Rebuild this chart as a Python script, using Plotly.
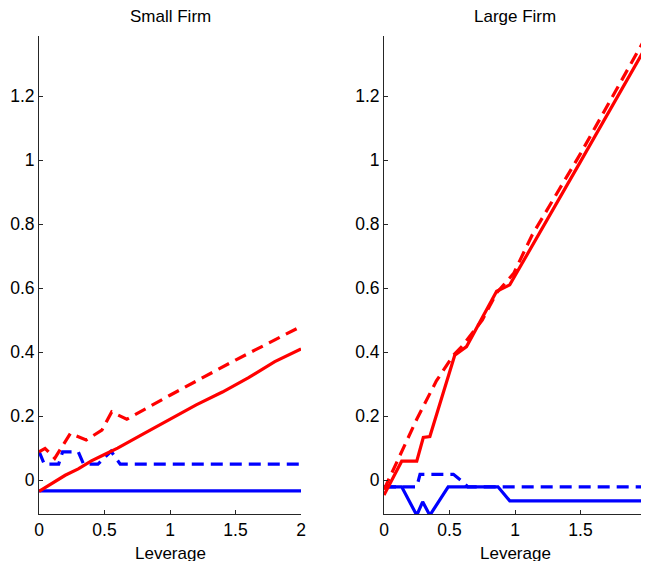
import plotly.graph_objects as go

# page is 649x561, the browser's default 8px body margin offsets the figure
OFF = 8
W, H = 649 - OFF, 561 - OFF

# ---- data: Small Firm ----
small_red_solid_x = [0, 0.1, 0.2, 0.3, 0.4, 0.5, 0.6, 0.8, 1.0, 1.2, 1.4, 1.6, 1.8, 2.0]
small_red_solid_y = [-0.035, -0.01, 0.015, 0.035, 0.06, 0.08, 0.1, 0.145, 0.19, 0.235, 0.275, 0.32, 0.37, 0.41]
small_red_dash_x = [0, 0.046, 0.12, 0.24, 0.36, 0.48, 0.555, 0.67, 1.0, 1.5, 2.0]
small_red_dash_y = [0.088, 0.099, 0.068, 0.146, 0.125, 0.156, 0.213, 0.19, 0.265, 0.375, 0.48]
small_blue_solid_x = [0, 2.0]
small_blue_solid_y = [-0.034, -0.034]
small_blue_dash_x = [0, 0.04, 0.15, 0.18, 0.3, 0.34, 0.45, 0.55, 0.62, 2.0]
small_blue_dash_y = [0.09, 0.05, 0.05, 0.088, 0.088, 0.05, 0.05, 0.09, 0.05, 0.05]

# ---- data: Large Firm ----
large_red_solid_x = [0, 0.135, 0.25, 0.3, 0.35, 0.48, 0.54, 0.63, 0.86, 0.96, 1.19, 1.5, 2.0]
large_red_solid_y = [-0.047, 0.059, 0.059, 0.133, 0.136, 0.31, 0.39, 0.417, 0.59, 0.61, 0.776, 0.995, 1.354]
large_red_dash_x = [0, 0.1, 0.25, 0.4, 0.53, 0.6, 0.75, 0.86, 0.99, 1.13, 1.5, 2.0]
large_red_dash_y = [-0.03, 0.06, 0.19, 0.31, 0.39, 0.42, 0.5, 0.585, 0.646, 0.765, 1.02, 1.385]
large_blue_solid_x = [0, 0.135, 0.25, 0.295, 0.35, 0.49, 0.87, 0.96, 2.0]
large_blue_solid_y = [-0.021, -0.021, -0.11, -0.068, -0.11, -0.021, -0.021, -0.065, -0.065]
large_blue_dash_x = [0, 0.25, 0.275, 0.53, 0.6, 0.64, 2.0]
large_blue_dash_y = [-0.021, -0.021, 0.018, 0.018, -0.005, -0.021, -0.021]

x_ticks = [0, 0.5, 1, 1.5, 2]
x_tick_text = ["0", "0.5", "1", "1.5", "2"]
y_ticks = [0, 0.2, 0.4, 0.6, 0.8, 1.0, 1.2]
y_tick_text = ["0", "0.2", "0.4", "0.6", "0.8", "1", "1.2"]
titles = ["Small Firm", "Large Firm"]
xlabel = "Leverage"

RED = "#FF0000"
BLUE = "#0000FF"
LW = 3.2
DASH = "12px,7px"

fig = go.Figure()

def add(x, y, color, dash, xa, ya):
    fig.add_trace(go.Scatter(x=x, y=y, mode="lines",
                             line=dict(color=color, width=LW, dash=dash),
                             xaxis=xa, yaxis=ya, showlegend=False,
                             hoverinfo="skip", cliponaxis=True))

add(small_blue_solid_x, small_blue_solid_y, BLUE, "solid", "x", "y")
add(small_blue_dash_x, small_blue_dash_y, BLUE, DASH, "x", "y")
add(small_red_solid_x, small_red_solid_y, RED, "solid", "x", "y")
add(small_red_dash_x, small_red_dash_y, RED, DASH, "x", "y")

add(large_blue_solid_x, large_blue_solid_y, BLUE, "solid", "x2", "y2")
add(large_blue_dash_x, large_blue_dash_y, BLUE, DASH, "x2", "y2")
add(large_red_solid_x, large_red_solid_y, RED, "solid", "x2", "y2")
add(large_red_dash_x, large_red_dash_y, RED, DASH, "x2", "y2")

def px(p):
    return (p - OFF) / W

def py(p):
    return 1 - (p - OFF) / H

yd = [py(514), py(36)]
xd1 = [px(39), px(301)]
xd2 = [px(384), px(646)]

font = dict(family="Liberation Sans, Arial, sans-serif", size=17.5, color="#000000")
tfont = dict(family="Liberation Sans, Arial, sans-serif", size=17, color="#000000")

common_x = dict(range=[0, 2], tickvals=x_ticks, ticktext=x_tick_text,
                showline=True, linecolor="#262626", linewidth=1,
                ticks="inside", ticklen=4, tickcolor="#262626",
                showgrid=False, zeroline=False, mirror=False,
                tickfont=font, fixedrange=True, automargin=False,
                ticklabeloverflow="allow")
common_y = dict(range=[-0.106, 1.3875], tickvals=y_ticks, ticktext=y_tick_text,
                showline=True, linecolor="#262626", linewidth=1,
                ticks="inside", ticklen=4, tickcolor="#262626",
                showgrid=False, zeroline=False, mirror=False,
                tickfont=font, fixedrange=True, automargin=False)

fig.update_layout(
    width=W, height=H,
    margin=dict(l=0, r=0, t=0, b=0, autoexpand=False),
    paper_bgcolor="white", plot_bgcolor="white",
    xaxis=dict(domain=xd1, anchor="y", **common_x),
    yaxis=dict(domain=yd, anchor="x", **common_y),
    xaxis2=dict(domain=xd2, anchor="y2", **common_x),
    yaxis2=dict(domain=yd, anchor="x2", **common_y),
    annotations=[
        dict(text=titles[0], x=px(170), y=py(16.5), xref="paper", yref="paper",
             xanchor="center", yanchor="middle", showarrow=False, font=tfont),
        dict(text=titles[1], x=px(515), y=py(16.5), xref="paper", yref="paper",
             xanchor="center", yanchor="middle", showarrow=False, font=tfont),
        dict(text=xlabel, x=px(170), y=py(553), xref="paper", yref="paper",
             xanchor="center", yanchor="middle", showarrow=False, font=tfont),
        dict(text=xlabel, x=px(515), y=py(553), xref="paper", yref="paper",
             xanchor="center", yanchor="middle", showarrow=False, font=tfont),
    ],
)

fig.write_html("out.html")
